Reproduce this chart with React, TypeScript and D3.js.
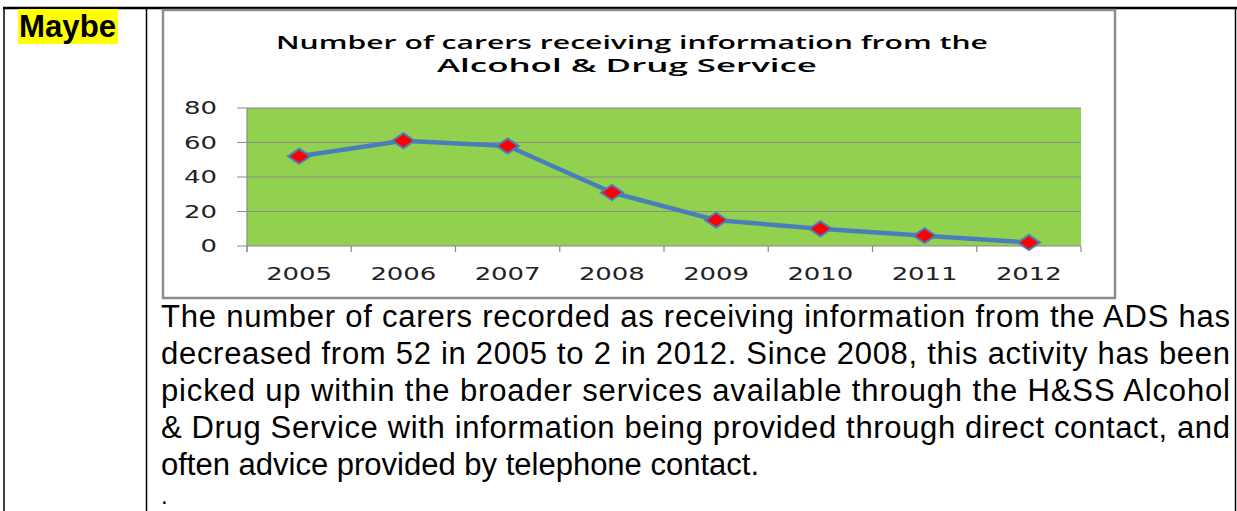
import React from "react";
import * as d3 from "d3";

const years = ["2005", "2006", "2007", "2008", "2009", "2010", "2011", "2012"];
const carers = [52, 61, 58, 31, 15, 10, 6, 2];
const yTicks = [0, 20, 40, 60, 80];
const titleLines = [
  "Number of carers receiving information from the",
  "Alcohol & Drug Service",
];
const bodyLines = [
  "The number of carers recorded as receiving information from the ADS has",
  "decreased from 52 in 2005 to 2 in 2012.  Since 2008, this activity has been",
  "picked up within the broader services available through the H&SS Alcohol",
  "& Drug Service with information being provided through direct contact, and",
  "often advice provided by telephone contact.",
];
const label = "Maybe";

const W = 1237;
const H = 511;
const plot = { left: 247, right: 1081, top: 108, bottom: 246 };

export default function App() {
  const x = d3.scaleBand<string>().domain(years).range([plot.left, plot.right]).padding(0);
  const y = d3.scaleLinear().domain([0, 80]).range([plot.bottom, plot.top]);
  const line = d3
    .line<number>()
    .x((_, i) => (x(years[i]) as number) + x.bandwidth() / 2)
    .y((d) => y(d));
  const diamond = (cx: number, cy: number) =>
    `M${cx - 11},${cy} L${cx},${cy - 7.5} L${cx + 11},${cy} L${cx},${cy + 7.5} Z`;

  const bodyFont = "'Liberation Sans', Arial, sans-serif";
  const chartFont = "'DejaVu Sans', Verdana, sans-serif";
  const tickEdges = years.map((yr) => x(yr) as number).concat([plot.right]);

  return (
    <svg
      width={W}
      height={H}
      style={{ position: "absolute", left: 0, top: 0, background: "#fff" }}
    >
      {/* table borders */}
      <line x1={3} x2={1237} y1={8} y2={8} stroke="#000" strokeWidth={2.5} />
      <line x1={4} x2={4} y1={7} y2={H} stroke="#000" strokeWidth={1.5} />
      <line x1={146.5} x2={146.5} y1={7} y2={H} stroke="#000" strokeWidth={1.5} />
      <line x1={1235.5} x2={1235.5} y1={7} y2={H} stroke="#000" strokeWidth={1.5} />

      {/* Maybe label */}
      <rect x={18} y={9} width={100} height={35} fill="#FFFF00" />
      <text x={19} y={37} fontFamily={bodyFont} fontWeight="bold" fontSize={31} fill="#000"
        textLength={97} lengthAdjust="spacingAndGlyphs">
        {label}
      </text>

      {/* chart box */}
      <rect x={163} y={10} width={952} height={288} fill="#fff" stroke="#8c8c8c" strokeWidth={2.5} />

      {/* title */}
      <text
        x={276}
        y={49}
        fontFamily="'Open Sans', Lato, sans-serif"
        fontWeight={600}
        fontSize={18.5}
        fill="#000"
        textLength={712}
        lengthAdjust="spacingAndGlyphs"
      >
        {titleLines[0]}
      </text>
      <text
        x={437}
        y={72}
        fontFamily="'Open Sans', Lato, sans-serif"
        fontWeight={600}
        fontSize={18.5}
        fill="#000"
        textLength={380}
        lengthAdjust="spacingAndGlyphs"
      >
        {titleLines[1]}
      </text>

      {/* plot area */}
      <rect
        x={plot.left}
        y={plot.top}
        width={plot.right - plot.left}
        height={plot.bottom - plot.top}
        fill="#92D050"
      />
      {yTicks.map((t) => (
        <g key={t}>
          <line x1={237} x2={plot.right} y1={y(t)} y2={y(t)} stroke="#8a8a8a" strokeWidth={1.2} />
          <text
            x={217}
            y={y(t) + 6}
            textAnchor="end"
            fontFamily={chartFont}
            fontSize={17}
            fill="#222"
            textLength={String(t).length * 16.5}
            lengthAdjust="spacingAndGlyphs"
          >
            {t}
          </text>
        </g>
      ))}
      <line x1={plot.left} x2={plot.left} y1={plot.top} y2={plot.bottom + 6} stroke="#8a8a8a" strokeWidth={1.2} />
      {tickEdges.map((tx, i) => (
        <line key={i} x1={tx} x2={tx} y1={plot.bottom} y2={plot.bottom + 6} stroke="#8a8a8a" strokeWidth={1.2} />
      ))}
      {years.map((yr) => (
        <text
          key={yr}
          x={(x(yr) as number) + x.bandwidth() / 2}
          y={280}
          textAnchor="middle"
          fontFamily={chartFont}
          fontSize={17}
          fill="#222"
          textLength={66}
          lengthAdjust="spacingAndGlyphs"
        >
          {yr}
        </text>
      ))}

      {/* series */}
      <path d={line(carers) || ""} fill="none" stroke="#4A7EBB" strokeWidth={4.5} strokeLinejoin="round" />
      {carers.map((v, i) => (
        <path
          key={i}
          d={diamond((x(years[i]) as number) + x.bandwidth() / 2, y(v))}
          fill="#FF0000"
          stroke="#4A7EBB"
          strokeWidth={2}
        />
      ))}

      {/* body text */}
      {bodyLines.map((ln, i) => (
        <text
          key={i}
          x={161}
          y={327 + i * 37}
          fontFamily={bodyFont}
          fontSize={31}
          fill="#000"
          {...(i < bodyLines.length - 1 ? { textLength: 1069, lengthAdjust: "spacing" } : {})}
        >
          {ln}
        </text>
      ))}
      <text x={161} y={504} fontFamily={bodyFont} fontSize={24} fill="#000">
        .
      </text>
    </svg>
  );
}
